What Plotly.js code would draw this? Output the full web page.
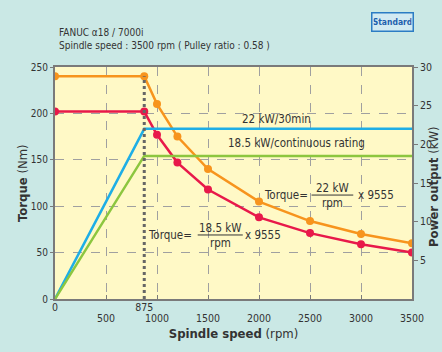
<!DOCTYPE html>
<html><head><meta charset="utf-8">
<script src="https://cdn.plot.ly/plotly-3.0.1.min.js"></script>
<style>html,body{margin:0;padding:0;background:#cae8e5;}#chart{width:442px;height:352px;}</style>
</head><body><div id="chart"></div>
<script>
// ---- data ----
const speedPoints = [0, 875, 1000, 1200, 1500, 2000, 2500, 3000, 3500];
const torque30min = [240, 240, 210, 175, 140, 105, 84, 70, 60];   // Nm (22 kW / 30min)
const torqueCont  = [202, 202, 177, 147, 118, 88, 71, 59, 50];    // Nm (18.5 kW continuous)
const powerSpeed  = [0, 875, 3500];
const power30min  = [0, 22, 22];      // kW
const powerCont   = [0, 18.5, 18.5];  // kW
const baseSpeed   = 875;
const xTickMain   = [500, 1000, 1500, 2000, 2500, 3000, 3500];
const xTickSpecial = [0, 875];
const yTicks      = [0, 50, 100, 150, 200, 250];
const y2Ticks     = [5, 10, 15, 20, 25, 30];

const FONT = "'Liberation Sans Narrow', 'DejaVu Sans Condensed', 'Arial Narrow', sans-serif";
const TXT = '#333333';
const GRID = '#a0a0a0';
const AX = '#7a7a7a';

const traces = [
  {x: powerSpeed, y: power30min, yaxis: 'y2', mode: 'lines', line: {color: '#1eaee6', width: 2.5}, hoverinfo: 'skip'},
  {x: powerSpeed, y: powerCont, yaxis: 'y2', mode: 'lines', line: {color: '#8cc63f', width: 2.5}, hoverinfo: 'skip'},
  {x: [baseSpeed, baseSpeed], y: [0, torque30min[1]], xaxis: 'x2', mode: 'lines', line: {color: '#666666', width: 3, dash: 'dot'}, hoverinfo: 'skip'},
  {x: speedPoints, y: torqueCont, mode: 'lines+markers', line: {color: '#e8194a', width: 2.5}, marker: {color: '#e8194a', size: 8}},
  {x: speedPoints, y: torque30min, mode: 'lines+markers', line: {color: '#f7941d', width: 2.5}, marker: {color: '#f7941d', size: 8}}
];

const ann = (x, y, text, extra) => Object.assign({x, y, xref: 'x', yref: 'y', text, showarrow: false, font: {family: FONT, size: 11.5, color: TXT}}, extra || {});

const L = 55, R = 30, T = 67, B = 53;
const pw = 442 - L - R, ph = 352 - T - B;
const px = v => (v - L) / pw;          // pixel x -> paper
const py = v => (352 - B - v) / ph;    // pixel y -> paper

const layout = {
  width: 442, height: 352,
  margin: {l: L, r: R, t: T, b: B, pad: 0},
  paper_bgcolor: '#cae8e5',
  plot_bgcolor: '#fff9c6',
  showlegend: false,
  font: {family: FONT, size: 11, color: TXT},
  title: {
    text: 'FANUC α18 / 7000i<br>Spindle speed : 3500 rpm ( Pulley ratio : 0.58 )',
    x: 59 / 442, xref: 'container', xanchor: 'left',
    y: 1 - 36 / 352, yref: 'container', yanchor: 'top',
    font: {family: FONT, size: 10, color: TXT}
  },
  xaxis: {
    range: [0, 3500], tickvals: xTickSpecial, ticktext: xTickSpecial.map(String),
    showgrid: false, zeroline: false, showline: true, linecolor: AX, linewidth: 2, mirror: true,
    ticks: '', ticklabelstandoff: -3, tickfont: {family: FONT, size: 10.5, color: TXT},
    title: {text: '<b>Spindle speed</b> (rpm)', font: {family: FONT, size: 13, color: TXT}, standoff: 17}
  },
  xaxis2: {
    range: [0, 3500], overlaying: 'x', side: 'bottom', anchor: 'y',
    tickvals: xTickMain, ticktext: xTickMain.map(String),
    showgrid: true, gridcolor: GRID, griddash: 'dash', gridwidth: 1,
    zeroline: false, showline: false,
    ticks: 'inside', ticklen: 4, tickcolor: AX, tickwidth: 1,
    ticklabelstandoff: 11,
    tickfont: {family: FONT, size: 10.5, color: TXT}
  },
  yaxis: {
    range: [0, 250], tickvals: yTicks, ticktext: yTicks.map(String),
    showgrid: true, gridcolor: GRID, griddash: 'dash', gridwidth: 1,
    zeroline: false, showline: true, linecolor: AX, linewidth: 2,
    ticks: 'outside', ticklen: 3, tickcolor: AX,
    tickfont: {family: FONT, size: 10, color: TXT}
  },
  yaxis2: {
    range: [0, 30], overlaying: 'y', side: 'right', anchor: 'x',
    tickvals: y2Ticks, ticktext: y2Ticks.map(String),
    showgrid: false, zeroline: false, showline: true, linecolor: AX, linewidth: 2,
    ticks: 'outside', ticklen: 4, tickcolor: AX,
    tickfont: {family: FONT, size: 10.5, color: TXT}
  },
  shapes: [
    {type: 'line', xref: 'x', yref: 'y', x0: 2515, x1: 2924, y0: 112, y1: 112, line: {color: TXT, width: 1}},
    {type: 'line', xref: 'x', yref: 'y', x0: 1399, x1: 1841, y0: 69, y1: 69, line: {color: TXT, width: 1}}
  ],
  annotations: [
    ann(2175, 194, '22 kW/30min'),
    ann(2370, 168, '18.5 kW/continuous rating'),
    ann(2268, 112, 'Torque='),
    ann(2720, 120, '22 kW'),
    ann(2720, 103, 'rpm'),
    ann(3146, 112, 'x 9555'),
    ann(1124, 69, 'Torque='),
    ann(1620, 77, '18.5 kW'),
    ann(1620, 60.5, 'rpm'),
    ann(2038, 69, 'x 9555'),
    {x: px(22), y: py(183), xref: 'paper', yref: 'paper', text: '<b>Torque</b> (Nm)', textangle: -90, showarrow: false,
     xanchor: 'center', yanchor: 'middle', font: {family: FONT, size: 13, color: TXT}},
    {x: px(433), y: py(187), xref: 'paper', yref: 'paper', text: '<b>Power output</b> (kW)', textangle: -90, showarrow: false,
     xanchor: 'center', yanchor: 'middle', font: {family: FONT, size: 13, color: TXT}},
    {x: px(392), y: py(21.5), xref: 'paper', yref: 'paper', text: '<b>Standard</b>', showarrow: false,
     xanchor: 'center', yanchor: 'middle', width: 38, height: 15, bgcolor: '#d2eaf2', bordercolor: '#2b7cc4', borderwidth: 1.5, borderpad: 1,
     font: {family: FONT, size: 8.5, color: '#1f5fae'}}
  ]
};

Plotly.newPlot('chart', traces, layout, {displayModeBar: false, staticPlot: true});
</script></body></html>
